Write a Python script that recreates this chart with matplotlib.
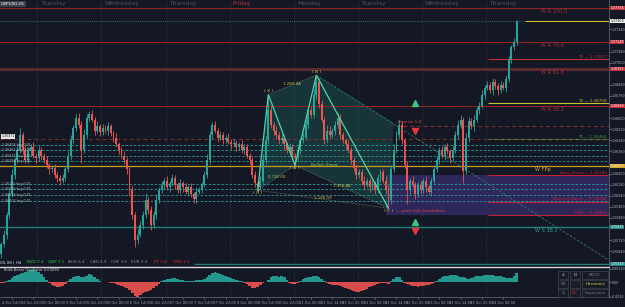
import numpy as np
import matplotlib.pyplot as plt
from matplotlib.patches import Rectangle, Polygon
from datetime import datetime, timedelta

symbol = "GBPUSD,H1"

# candles: closes in pips above base_price, opens follow previous close
base_price = 1.3550
first_open = 12
close_pips = [
    19, 26, 40, 55, 69, 80, 87, 98, 87, 80,
    86, 89, 83, 81, 87, 83, 80, 76, 73, 74,
    69, 67, 65, 67, 73, 83, 94, 103, 110, 105,
    87, 98, 110, 113, 109, 101, 104, 100, 103, 101,
    104, 99, 96, 91, 87, 83, 80, 73, 58, 40,
    22, 26, 33, 40, 51, 44, 33, 40, 51, 58,
    62, 65, 60, 63, 67, 62, 58, 63, 60, 57,
    60, 55, 52, 57, 58, 62, 69, 80, 98, 105,
    101, 96, 98, 94, 96, 93, 91, 92, 89, 91,
    87, 89, 83, 80, 69, 63, 60, 65, 80, 94,
    116, 105, 101, 98, 94, 96, 91, 87, 89, 83,
    81, 87, 94, 96, 105, 116, 112, 127, 136, 120,
    109, 94, 101, 98, 101, 105, 110, 98, 94, 91,
    87, 80, 74, 69, 71, 65, 62, 65, 60, 63,
    58, 67, 71, 65, 58, 51, 73, 87, 98, 105,
    94, 76, 58, 65, 62, 55, 62, 58, 65, 60,
    57, 65, 73, 80, 87, 83, 89, 86, 81, 87,
    98, 105, 109, 72, 96, 108, 104, 109, 116, 119,
    127, 132, 134, 130, 136, 133, 130, 134, 132, 138,
    152, 161, 165, 180,
]
wick_hi = [
    2, 3, 2, 3, 4, 2, 3, 5, 2, 3,
    3, 2, 4, 2, 3, 2, 2, 3, 2, 2,
    3, 2, 2, 3, 2, 3, 4, 2, 3, 4,
    3, 4, 3, 2, 3, 2, 4, 2, 3, 2,
    3, 2, 2, 3, 2, 2, 3, 2, 2, 3,
    2, 4, 3, 3, 5, 2, 3, 3, 4, 2,
    3, 2, 3, 2, 3, 2, 2, 3, 2, 3,
    2, 3, 2, 3, 2, 2, 3, 4, 3, 2,
    3, 2, 3, 2, 2, 3, 2, 3, 2, 2,
    3, 2, 2, 2, 2, 3, 2, 3, 4, 3,
    11, 3, 2, 3, 2, 3, 2, 2, 3, 2,
    2, 3, 2, 3, 4, 3, 3, 4, 5, 3,
    3, 2, 4, 3, 2, 3, 4, 3, 2, 2,
    3, 2, 2, 3, 2, 2, 3, 2, 2, 3,
    2, 3, 2, 2, 3, 4, 3, 4, 3, 4,
    3, 2, 3, 2, 3, 2, 2, 3, 2, 3,
    2, 2, 3, 3, 2, 3, 2, 3, 2, 3,
    3, 4, 3, 2, 3, 3, 2, 3, 2, 3,
    3, 2, 3, 2, 3, 2, 2, 3, 2, 3,
    3, 2, 3, 1,
]
wick_lo = [
    3, 2, 3, 2, 2, 3, 2, 2, 3, 2,
    2, 3, 2, 3, 2, 3, 2, 2, 3, 2,
    2, 3, 3, 2, 2, 2, 3, 2, 2, 2,
    9, 2, 3, 2, 2, 3, 2, 3, 2, 2,
    3, 2, 3, 2, 3, 2, 3, 3, 4, 3,
    5, 3, 2, 3, 2, 3, 4, 2, 3, 2,
    2, 3, 2, 3, 2, 3, 2, 2, 3, 2,
    3, 2, 3, 3, 2, 2, 2, 2, 3, 3,
    2, 3, 2, 3, 2, 2, 3, 2, 3, 2,
    2, 3, 2, 3, 2, 3, 3, 2, 2, 3,
    3, 2, 3, 2, 3, 2, 3, 2, 2, 3,
    5, 2, 3, 2, 2, 3, 2, 2, 3, 3,
    2, 3, 2, 3, 2, 3, 2, 3, 2, 3,
    2, 3, 2, 3, 2, 3, 3, 2, 3, 2,
    3, 2, 3, 2, 3, 6, 3, 2, 2, 3,
    3, 2, 10, 3, 2, 3, 2, 3, 2, 3,
    2, 3, 2, 2, 3, 2, 3, 2, 3, 2,
    2, 3, 2, 9, 2, 3, 2, 3, 2, 3,
    2, 3, 2, 2, 3, 2, 3, 2, 2, 3,
    2, 2, 2, 2,
]
# oscillator, units of 0.0001
osc = [
    -1, -1, 1, 2, 4, 6, 7, 8, 9, 10,
    11, 12, 12, 11, 10, 8, 5, 2, -1, -3,
    -4, -5, -5, -4, -2, 1, 3, 5, 6, 6,
    5, 5, 6, 8, 7, 5, 3, 1, 0.5, 0.5,
    0.3, -0.5, -1, -2, -3, -4, -5, -6, -8, -11,
    -14, -15, -13, -11, -10, -9, -8, -6, -4, -2,
    1, 2, 3, 3, 4, 4, 3, 2, 2, 1,
    1, 1, 1, 2, 2, 2, 3, 5, 7, 9,
    10, 9, 8, 7, 6, 5, 4, 3, 2, 1,
    1, -1, -2, -4, -6, -6, -5, -3, -1, 0.3,
    2, 5, 6, 6, 5, 6, 5, 2, -1, -2,
    -2, -1, 1, 3, 4, 5, 5, 6, 6, 5,
    3, 1, -1, -2, -3, -3, -3, -4, -5, -6,
    -7, -8, -9, -10, -10, -9, -8, -7, -5, -4,
    -3, -2, -1, -1, -1, -2, 1, 3, 5, 5,
    2, -1, -2, -3, -4, -4, -5, -4, -4, -3,
    -3, -2, -1, 1, 3, 5, 6, 6, 7, 7,
    7, 6, 5, 5, 4, 3, 4, 5, 6, 6,
    6, 7, 7, 7, 7, 6, 6, 6, 5, 4,
    4, 4, 6, 9,
]
assert len(close_pips) == len(wick_hi) == len(wick_lo) == len(osc) == 194

current_price = 1.37300
pivot_names = ["W R 100.0", "W R 78.6", "W R 61.8", "W R 38.2", "W FPp", "W S 38.2", "W S 61.8"]
pivot_prices = [1.37394, 1.37149, 1.36955, 1.36688, 1.36255, 1.35815, 1.35549]
target_names = ["T3", "T2", "T1"]
target_prices = [1.37027, 1.36709, 1.36450]
shark_names = ["Baby Shark", "Mommy Shark", "PRZ"]
shark_prices = [1.36190, 1.35996, 1.35902]
buy_levels = [1.36406, 1.36367, 1.36327, 1.36288, 1.36125, 1.36086, 1.36046, 1.36006]
stop_level = 1.36450
bearish_level = 1.36544
tag_price = 1.36471

pattern_names = ["0", "X", "A", "B", "C"]
pattern_bars = [96, 100, 110, 118, 145]
pattern_prices = [1.36080, 1.36770, 1.36260, 1.36910, 1.35950]
proj_end = (228, 1.35570)
shade_corner = (147, 1.36568)
ratio_text = ["0.735 0X", "1.289 XA", "1.476 AB", "1.188 0X"]

signal_bar = 155
signal_up = [1.36710, 1.35852]
signal_dn = [1.36507, 1.35786]

strength_names = ["NZD 7.4", "GBP 7.1", "AUD 6.4", "CAD 4.9", "CHF 3.6", "EUR 3.4", "JPY 2.8", "USD 1.1"]
strength_x = [27, 48, 68, 90, 111, 131, 153, 173]

day_names = ["Tuesday", "Wednesday", "Thursday", "Friday", "Monday", "Tuesday", "Wednesday", "Thursday"]
day_bars = [14, 38, 62, 86, 110, 134, 158, 182]

BG = "#141824"
UP = "#26a69a"
DN = "#ef5350"
RED = "#8e2329"
FS_AX = 2.3

W, H = 625, 307
BAR_PX = 2.67
fig = plt.figure(figsize=(W / 100, H / 100), dpi=100, facecolor=BG)
ax = fig.add_axes([0, 42 / H, 609 / W, 265 / H], facecolor=BG)
ax2 = fig.add_axes([0, 10 / H, 609 / W, 30 / H], facecolor=BG)
xmax = -0.5 + 609 / BAR_PX
ylo, yhi = 1.35541, 1.37452

n = len(close_pips)
idx = np.arange(n)
closes = base_price + np.array(close_pips) / 10000
opens = np.concatenate([[base_price + first_open / 10000], closes[:-1]])
highs = np.maximum(opens, closes) + np.array(wick_hi) / 10000
lows = np.minimum(opens, closes) - np.array(wick_lo) / 10000
up = closes >= opens
ccol = np.where(up, UP, DN)

ax.set_xlim(-0.5, xmax)
ax.set_ylim(ylo, yhi)

# day separators
for b in day_bars:
    for a in (ax, ax2):
        a.axvline(b - 0.5, color="#3b4150", lw=0.6, ls=(0, (1, 2)), zorder=0)
for b, name in zip(day_bars, day_names):
    ax.text(b + 0.7, 1.37430, name, fontsize=4.3, color="#c0303a" if name == "Friday" else "#4d5464",
            va="center", ha="left")

# purple PRZ zone
ax.add_patch(Rectangle((144, shark_prices[2]), xmax - 144, shark_prices[0] - shark_prices[2],
                       facecolor="#3a2f72", alpha=0.7, edgecolor="none", zorder=1))

# pattern shading
px = pattern_bars
pp = pattern_prices
poly = [(px[0], pp[0]), (px[1], pp[1]), (px[3], pp[3]), shade_corner, (px[4], pp[4]), (px[2], pp[2])]
ax.add_patch(Polygon(poly, closed=True, facecolor="#1f6e62", alpha=0.35, edgecolor="none", zorder=1))

# levels
ax.axhline(pivot_prices[0], color=RED, lw=0.8, zorder=2)
ax.axhline(pivot_prices[1], color=RED, lw=0.8, zorder=2)
ax.axhline(pivot_prices[2], color="#5a2a31", lw=2.2, zorder=2)
ax.axhline(pivot_prices[3], color=RED, lw=0.8, zorder=2)
ax.axhline(pivot_prices[4], color="#c79a22", lw=0.9, zorder=2)
ax.axhline(pivot_prices[5], color="#1e7f7a", lw=1.0, zorder=2)
ax.hlines(pivot_prices[6], 72, xmax, color="#1e7f7a", lw=1.0, zorder=2)
for name, p in zip(pivot_names[:4], pivot_prices[:4]):
    ax.text(202, p - 0.00005, name, fontsize=3.6, color="#a8323a", va="top", ha="left")
ax.text(200, pivot_prices[4] - 0.00005, pivot_names[4], fontsize=3.6, color="#d2aa2c", va="top")
ax.text(200, pivot_prices[5] - 0.00005, pivot_names[5], fontsize=3.6, color="#2a9d95", va="top")
ax.text(200, pivot_prices[6] - 0.00005, pivot_names[6], fontsize=3.6, color="#2a9d95", va="top",
        clip_on=True)

ax.hlines(current_price, -0.5, 196, color="#2a8a85", lw=0.6, ls=(0, (1, 1.5)), zorder=2)
ax.hlines(current_price, 196, xmax, color="#c9c12c", lw=0.8, zorder=2)

tcols = ["#c0303a", "#c9c12c", "#2e9e3e"]
for name, p, c in zip(target_names, target_prices, tcols):
    ax.hlines(p, 182.3, xmax, color=c, lw=0.8, zorder=2)
    ax.text(xmax - 0.8, p + 0.00003, f"{name} \u2014 {p:.5f}", fontsize=3, color=c, ha="right", va="bottom")
for name, p in zip(shark_names, shark_prices):
    ax.hlines(p, 182.3, xmax, color="#c21f3a", lw=0.8, zorder=2)
    ax.text(xmax - 0.8, p + 0.00003, f"{name} \u2014 {p:.5f}", fontsize=3, color="#c21f3a", ha="right", va="bottom")

ax.axhline(stop_level, color="#8a2a2e", lw=0.7, ls=(0, (4, 3)), zorder=2)
ax.hlines(bearish_level, 148, xmax, color="#8a2a2e", lw=0.7, ls=(0, (4, 3)), zorder=2)
ax.text(148.5, bearish_level + 0.0003, "Bearish 5-0", fontsize=3, color="#d04048", va="center")
for p in buy_levels:
    ax.axhline(p, color="#2a9fa5", lw=0.6, ls=(0, (3, 2)), zorder=2)
    ax.text(0.2, p, f"{p:.5f} buy 0.01", fontsize=2.3, color="#b7bec8", va="center", zorder=6)
ax.text(0.0, tag_price, f"{tag_price:.5f}", fontsize=2.3, color="#202020", va="center", zorder=6,
        bbox=dict(boxstyle="square,pad=0.15", facecolor="#e6e6e6", edgecolor="none"))

# candles
ax.vlines(idx, lows, highs, color=ccol, lw=0.6, zorder=3)
body = np.maximum(np.abs(closes - opens), 0.00003)
ax.bar(idx, body, bottom=np.minimum(opens, closes), width=0.72, color=ccol, zorder=4, linewidth=0)

# harmonic pattern
ax.plot(px, pp, color="#4fd6a6", lw=0.9, zorder=5)
dot = dict(color="#8a9a96", lw=0.5, ls=(0, (1, 1.5)), zorder=5)
pairs = [(0, 2), (1, 3), (2, 4), (0, 4)]
for (i, j), t in zip(pairs, ratio_text):
    ax.plot([px[i], px[j]], [pp[i], pp[j]], **dot)
    ax.text((px[i] + px[j]) / 2, (pp[i] + pp[j]) / 2 + 0.00008, t, fontsize=2.8, color="#c9c23a",
            ha="center", va="center", zorder=6)
ax.plot([px[3], proj_end[0]], [pp[3], proj_end[1]], color="#2a7f6a", lw=0.6, ls=(0, (3, 2)), zorder=5)
ax.text(121, 1.36262, "Bullish Shark", fontsize=3, color="#7fcf5a", ha="center", va="center", zorder=6)
offs = [-0.00022, 0.00025, -0.00022, 0.00025, -0.00022]
for name, b, p, o in zip(pattern_names, px, pp, offs):
    ax.text(b, p + o, f"( {name} )", fontsize=3.2, color="#d8d040", ha="center", va="center", zorder=6)
ax.text(px[4] + 3, pp[4] - 0.00022, "\u2014 price fails breakdown", fontsize=3, color="#d8404a",
        ha="left", va="center", zorder=6)
ax.plot([signal_bar] * 2, signal_up, ls="none", marker="^", ms=4.5, color="#39c77f", zorder=6)
ax.plot([signal_bar] * 2, signal_dn, ls="none", marker="v", ms=4.5, color="#e8343c", zorder=6)

# right price scale, tags hide the ticks they sit on
box_prices = pivot_prices[:4] + [current_price, pivot_prices[4], pivot_prices[5], pivot_prices[6]]
box_cols = ["#c0303a"] * 4 + ["#eeeeee", "#d4a626", "#1f8a84", "#1f8a84"]
px_per_price = 265 / (yhi - ylo)
ticks = [t for t in np.arange(1.3732, 1.3555, -0.0008)
         if min(abs(t - b) for b in box_prices) * px_per_price > 5.5]
ax.yaxis.tick_right()
ax.set_yticks(ticks)
ax.set_yticklabels([f"{t:.5f}" for t in ticks])
ax.tick_params(axis="y", labelsize=FS_AX, colors="#b5bac4", length=1.2, width=0.4, pad=0.8)
ax.set_xticks([])
for s in ("top", "bottom", "left"):
    ax.spines[s].set_visible(False)
ax.spines["right"].set_color("#5a606e")
ax.spines["right"].set_linewidth(0.6)

tr = ax.get_yaxis_transform()
for p, c in zip(box_prices, box_cols):
    ax.text(1.0025, p, f"{p:.5f}", transform=tr, fontsize=FS_AX, color="#111111" if c == "#eeeeee" else "white",
            va="center", ha="left", clip_on=False, zorder=10,
            bbox=dict(boxstyle="square,pad=0.12", facecolor=c, edgecolor="none"))

# oscillator
osc_v = np.array(osc) / 10000
ax2.bar(idx, osc_v, width=1.0, color=np.where(osc_v >= 0, UP, DN), linewidth=0, alpha=0.9)
ax2.set_xlim(-0.5, xmax)
ax2.set_ylim(-0.0015, 0.0015)
ax2.yaxis.tick_right()
ax2.set_yticks([0.0013, 0, -0.0015])
ax2.set_yticklabels(["0.00130", "0.00", "-0.0015"])
ax2.tick_params(axis="y", labelsize=FS_AX, colors="#b5bac4", length=1.2, width=0.4, pad=0.8)
ax2.text(1, 0.00118, "Bulls Bears Oscillator 0.00090", fontsize=2.6, color="#d0d4da", va="center")

tick_bars = list(range(4, n, 8))
tick_labels = []
for b in tick_bars:
    d = datetime(2021, 10, 4, 10) + timedelta(hours=b) if b < 110 else datetime(2021, 10, 11) + timedelta(hours=b - 110)
    tick_labels.append(f"{d.day} Oct {d:%H:%M}")
ax2.set_xticks(tick_bars)
ax2.set_xticklabels(tick_labels)
ax2.tick_params(axis="x", labelsize=2.5, colors="#9aa0aa", length=1.5, width=0.4, pad=1.5)
ax2.spines["top"].set_color("#d8d8d8")
ax2.spines["top"].set_linewidth(1.0)
ax2.spines["left"].set_visible(False)
for s in ("right", "bottom"):
    ax2.spines[s].set_color("#5a606e")
    ax2.spines[s].set_linewidth(0.6)

# overlay in pixel space for the terminal widgets
ov = fig.add_axes([0, 0, 1, 1])
ov.set_xlim(0, W)
ov.set_ylim(H, 0)
ov.axis("off")
ov.patch.set_alpha(0)
ov.text(1, 4, symbol, fontsize=3, color="white", va="center",
        bbox=dict(boxstyle="square,pad=0.2", facecolor="#3a3f4a", edgecolor="none"))
ov.text(0, 262, "05:08 | H4", fontsize=3, color="#d8dce2", va="center")
scol = ["#2ecc40", "#2ecc40", "#8a909a", "#8a909a", "#8a909a", "#8a909a", "#e03030", "#e03030"]
for t, x, c in zip(strength_names, strength_x, scol):
    ov.text(x, 262, t, fontsize=3, color=c, va="center")

btn_rows = [271, 280, 289]
btn_cols = [(558, 10), (570, 10), (582, 26)]
btn_text = [["A", "D", "ABCD"], ["W", "", "Harmonic"], ["Q", "DC", "Expansion"]]
btn_col = [["#8a909a", "#d8d8d8", "#6a707a"], ["#8a909a", "#8a909a", "#e0d040"], ["#8a909a", "#e03030", "#6a707a"]]
for r, y in enumerate(btn_rows):
    for c, (x, w) in enumerate(btn_cols):
        ov.add_patch(Rectangle((x, y), w, 8, facecolor="#181c27", edgecolor="#3c414d", lw=0.5))
        ov.text(x + w / 2, y + 4, btn_text[r][c], fontsize=3, color=btn_col[r][c], ha="center", va="center")

fig.savefig("out.png", dpi=100, facecolor=BG)
